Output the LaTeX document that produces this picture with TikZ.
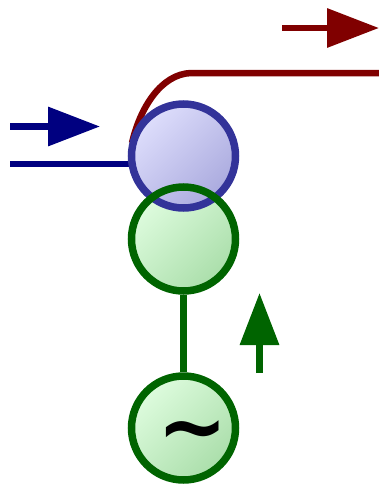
\documentclass[tikz,border=0pt]{standalone}
\usepackage{fontspec}
\setmainfont{DejaVu Sans}
\usetikzlibrary{arrows.meta,backgrounds}
\definecolor{maroon}{RGB}{128,0,0}
\definecolor{navy}{RGB}{0,0,128}
\definecolor{leaf}{RGB}{0,100,0}
\definecolor{ringblue}{RGB}{51,51,153}
\definecolor{greenlight}{RGB}{222,252,222}
\definecolor{greendark}{RGB}{170,222,170}
\definecolor{bluelight}{RGB}{222,222,252}
\definecolor{bluedark}{RGB}{170,170,222}
\tikzstyle{greenfill} = [circle, minimum size=104pt, inner sep=0pt, top color=greenlight, bottom color=greendark, shading angle=45]
\tikzstyle{greenring} = [circle, draw=leaf, line width=7.5pt, minimum size=104pt, inner sep=0pt]
\tikzstyle{bluefill} = [circle, draw=ringblue, line width=7.5pt, minimum size=104pt, inner sep=0pt,
top color=bluelight, bottom color=bluedark, shading angle=45]
\tikzstyle{line} = [draw, line width=6.5pt]
\tikzstyle{flow} = [line, -{Triangle[length=52pt,width=38pt]}]

\begin{document}
\begin{tikzpicture}[x=1pt, y=-1pt, node distance = 83pt]
\useasboundingbox (0,0) rectangle (379,485);
% Place nodes
\node [greenfill] (nip) at (183.5,239) {};
\node [bluefill, above of=nip] (roller) {};
\node [greenring] (nipring) at (nip) {};
\node [greenfill, draw=leaf, line width=7.5pt, below of=nip, node distance=189pt] (source) {};
\node [inner sep=0pt, xshift=9pt, yshift=-10pt] (wave) at (source) {\fontsize{84}{84}\bfseries\selectfont\textasciitilde};
\coordinate (feedin) at (10,164);
\coordinate (contact) at (132,143);
\coordinate (bend) at (191,73);
\coordinate (feedout) at (379,73);
\coordinate (inarrow) at (10,126.5);
\coordinate (inarrowtip) at (100,126.5);
\coordinate (outarrow) at (282,28);
\coordinate (outarrowtip) at (379,28);
\coordinate (uparrow) at (259.5,373);
\coordinate (uparrowtip) at (259.5,293);
% Connectors
\begin{scope}[on background layer]
\path [line, maroon] (contact) .. controls (140,108) and (161,74) .. (bend) -- (feedout);
\path [line, navy] (feedin) -- (feedin -| roller.center);
\end{scope}
\path [line, leaf] (nipring) -- (source);
\path [flow, navy] (inarrow) -- (inarrowtip);
\path [flow, maroon] (outarrow) -- (outarrowtip);
\path [flow, leaf] (uparrow) -- (uparrowtip);
\end{tikzpicture}
\end{document}
